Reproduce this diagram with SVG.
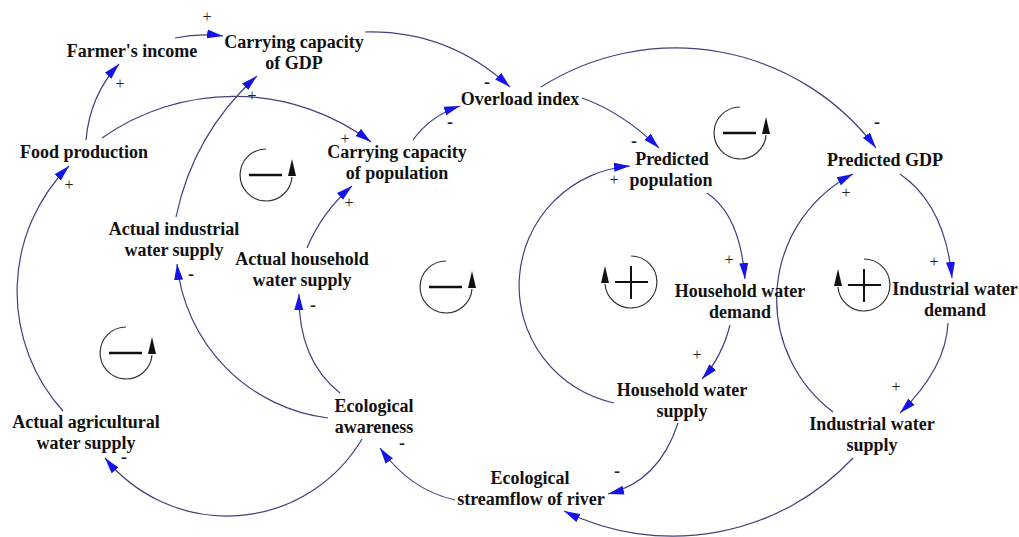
<svg xmlns="http://www.w3.org/2000/svg" width="1019" height="537" viewBox="0 0 1019 537">
<style>
.lbl{font-family:"Liberation Serif","Times New Roman",serif;font-weight:bold;font-size:18px;fill:#111;text-anchor:middle}
.pos{font-family:"Liberation Serif","Times New Roman",serif;font-size:16px;fill:#222;text-anchor:middle}
.neg{font-family:"Liberation Serif","Times New Roman",serif;font-weight:bold;font-size:18px;fill:#222;text-anchor:middle}
.link{fill:none;stroke:#40407f;stroke-width:1.2;marker-end:url(#ah)}
.loopc{fill:none;stroke:#333;stroke-width:1.2}
.sgn{stroke:#111;stroke-width:2.5;fill:none}
.la{fill:#111}
</style>
<defs>
<marker id="ah" markerUnits="userSpaceOnUse" markerWidth="17" markerHeight="10" refX="16" refY="5" orient="auto" viewBox="0 0 17 10">
<path d="M0,0.5 L16,5 L0,9.5 Z" fill="#1414e6"/>
</marker>
<g id="negsym">
<path class="loopc" d="M0,-26 A26,26 0 1 0 26,2"/>
<path class="sgn" d="M-17,0 H16"/>
<path class="la" d="M26,-16 L30,1 L22,1 Z"/>
</g>
<g id="possym">
<path class="loopc" d="M0,-26 A26,26 0 1 1 -26,2"/>
<path class="sgn" style="stroke-width:2" d="M-16,0 H17 M0,-16 V17"/>
<path class="la" d="M-26,-16 L-22,1 L-30,1 Z"/>
</g>
</defs>
<rect width="1019" height="537" fill="#fff"/>

<g id="connectors">
<path class="link" d="M86,140 Q90,95 119,64"/>
<path class="link" d="M175,38 Q200,33 223,36"/>
<path class="link" d="M176,217 Q193.5,133.5 257,76"/>
<path class="link" d="M102,138 A229,229 0 0 1 371,142"/>
<path class="link" d="M365,32 Q448,30 510,87"/>
<path class="link" d="M413,140 Q430,116 460,106"/>
<path class="link" d="M582,98 Q622,112 659,148"/>
<path class="link" d="M541,87 A251,251 0 0 1 876,148"/>
<path class="link" d="M307,248 Q322,212 352,186"/>
<path class="link" d="M328,418 A173,173 0 0 1 177,264"/>
<path class="link" d="M340,393 Q298,360 299,294"/>
<path class="link" d="M362,439 A157,157 0 0 1 105,458"/>
<path class="link" d="M63,411 A178,178 0 0 1 69,166"/>
<path class="link" d="M455,500 Q410,490 380,448"/>
<path class="link" d="M678,423 Q659,481.5 608,494"/>
<path class="link" d="M853,458 A247,247 0 0 1 564,511"/>
<path class="link" d="M614,403 A120,120 0 0 1 630,166"/>
<path class="link" d="M707,193 Q740,215 745,279"/>
<path class="link" d="M730,325 Q722,357 702,379"/>
<path class="link" d="M900,174 Q945,205 952,278"/>
<path class="link" d="M948,323 Q946,368 900,413"/>
<path class="link" d="M833,412 A141,141 0 0 1 853,174"/>
</g>

<g id="polarities">
<text class="pos" x="120" y="89">+</text>
<text class="pos" x="207" y="22">+</text>
<text class="pos" x="252" y="101">+</text>
<text class="pos" x="345" y="144">+</text>
<text class="neg" x="487" y="88">-</text>
<text class="neg" x="450" y="128">-</text>
<text class="neg" x="634" y="147">-</text>
<text class="neg" x="877" y="128">-</text>
<text class="pos" x="349" y="208">+</text>
<text class="neg" x="191" y="280">-</text>
<text class="neg" x="313" y="311">-</text>
<text class="neg" x="124" y="463">-</text>
<text class="pos" x="69" y="190">+</text>
<text class="neg" x="402" y="449">-</text>
<text class="neg" x="617" y="477">-</text>
<text class="pos" x="614" y="185">+</text>
<text class="pos" x="729" y="265">+</text>
<text class="pos" x="697" y="360">+</text>
<text class="pos" x="934" y="267">+</text>
<text class="pos" x="896" y="392">+</text>
<text class="pos" x="846" y="198">+</text>
</g>

<g id="loops">
<use href="#negsym" x="266" y="175"/>
<use href="#negsym" x="740" y="133"/>
<use href="#negsym" x="446" y="287"/>
<use href="#negsym" x="126" y="353"/>
<use href="#possym" x="631" y="282"/>
<use href="#possym" x="864" y="285"/>
</g>

<g id="farmers_income"><text class="lbl" x="132" y="57">Farmer's income</text></g>
<g id="cc_gdp"><text class="lbl" x="294" y="48">Carrying capacity</text><text class="lbl" x="294" y="69">of GDP</text></g>
<g id="overload_index"><text class="lbl" x="520" y="105">Overload index</text></g>
<g id="cc_population"><text class="lbl" x="397" y="158">Carrying capacity</text><text class="lbl" x="397" y="179">of population</text></g>
<g id="food_production"><text class="lbl" x="84" y="158">Food production</text></g>
<g id="predicted_population"><text class="lbl" x="672" y="165">Predicted</text><text class="lbl" x="671" y="186">population</text></g>
<g id="predicted_gdp"><text class="lbl" x="885" y="166">Predicted GDP</text></g>
<g id="actual_industrial"><text class="lbl" x="174" y="235">Actual industrial</text><text class="lbl" x="174" y="256">water supply</text></g>
<g id="actual_household"><text class="lbl" x="302" y="265">Actual household</text><text class="lbl" x="302" y="286">water supply</text></g>
<g id="household_demand"><text class="lbl" x="740" y="297">Household water</text><text class="lbl" x="740" y="318">demand</text></g>
<g id="industrial_demand"><text class="lbl" x="955" y="295">Industrial water</text><text class="lbl" x="955" y="316">demand</text></g>
<g id="household_supply"><text class="lbl" x="682" y="396">Household water</text><text class="lbl" x="682" y="417">supply</text></g>
<g id="industrial_supply"><text class="lbl" x="872" y="430">Industrial water</text><text class="lbl" x="872" y="451">supply</text></g>
<g id="ecological_streamflow"><text class="lbl" x="530" y="484">Ecological</text><text class="lbl" x="531" y="505">streamflow of river</text></g>
<g id="ecological_awareness"><text class="lbl" x="374" y="412">Ecological</text><text class="lbl" x="374" y="433">awareness</text></g>
<g id="actual_agricultural"><text class="lbl" x="86" y="428">Actual agricultural</text><text class="lbl" x="86" y="449">water supply</text></g>
</svg>
